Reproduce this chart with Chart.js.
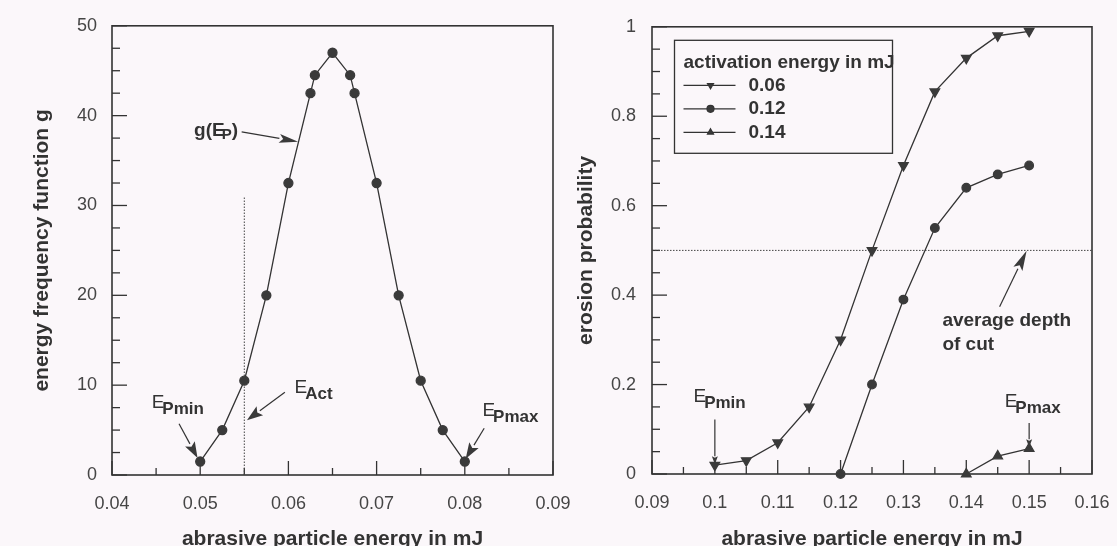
<!DOCTYPE html>
<html>
<head>
<meta charset="utf-8">
<script src="https://cdn.jsdelivr.net/npm/chart.js@4.4.1/dist/chart.umd.min.js"></script>
<style>
  html, body { margin: 0; padding: 0; background: #fbf7fa; overflow: hidden; }
  #wrap { position: relative; width: 1117px; height: 546px; overflow: hidden; }
  .box { position: absolute; top: 0; }
</style>
</head>
<body>
<div id="wrap">
  <div class="box" style="left:0"><canvas id="leftChart" width="600" height="560"></canvas></div>
  <div class="box" style="left:560px"><canvas id="rightChart" width="557" height="560"></canvas></div>
</div>
<script>
// Lijevi dijagram - funkcija učestalosti energije g(E_P)
const energyX = [0.05, 0.0525, 0.055, 0.0575, 0.06, 0.0625, 0.063, 0.065, 0.067, 0.0675, 0.07, 0.0725, 0.075, 0.0775, 0.08];
const frequencyG = [1.5, 5, 10.5, 20, 32.5, 42.5, 44.5, 47, 44.5, 42.5, 32.5, 20, 10.5, 5, 1.5];
const activationX = 0.055;
const activationTop = 31;

// Desni dijagram - vjerovatnoća erozije za tri energije aktivacije
const seriesLabels = ['0.06', '0.12', '0.14'];
const energy006 = [0.1, 0.105, 0.11, 0.115, 0.12, 0.125, 0.13, 0.135, 0.14, 0.145, 0.15];
const prob006 = [0.02, 0.03, 0.07, 0.15, 0.3, 0.5, 0.69, 0.855, 0.93, 0.98, 0.99];
const energy012 = [0.12, 0.125, 0.13, 0.135, 0.14, 0.145, 0.15];
const prob012 = [0, 0.2, 0.39, 0.55, 0.64, 0.67, 0.69];
const energy014 = [0.14, 0.145, 0.15];
const prob014 = [0, 0.04, 0.057];
const averageDepthLevel = 0.5;

const INK = '#333';
const TICK_INK = '#454545';
const BG = '#fbf7fa';
const FONT = "'Liberation Sans', Arial, Helvetica, sans-serif";

function toPoints(xs, ys) {
    return xs.map((x, i) => ({ x: x, y: ys[i] }));
}

function line(ctx, x1, y1, x2, y2) {
    ctx.beginPath();
    ctx.moveTo(x1, y1);
    ctx.lineTo(x2, y2);
    ctx.stroke();
}

// Strelica sa ispunjenom glavom, koordinate u jedinicama podataka
function arrow(chart, from, to, headLen, headWidth) {
    const { ctx, scales } = chart;
    const x1 = scales.x.getPixelForValue(from[0]), y1 = scales.y.getPixelForValue(from[1]);
    const x2 = scales.x.getPixelForValue(to[0]), y2 = scales.y.getPixelForValue(to[1]);
    const ang = Math.atan2(y2 - y1, x2 - x1);
    ctx.save();
    ctx.strokeStyle = INK;
    ctx.fillStyle = '#3a3a3a';
    ctx.lineWidth = 1.2;
    const bx = x2 - Math.cos(ang) * headLen, by = y2 - Math.sin(ang) * headLen;
    line(ctx, x1, y1, bx, by);
    ctx.beginPath();
    ctx.moveTo(x2, y2);
    ctx.lineTo(bx + Math.sin(ang) * headWidth / 2, by - Math.cos(ang) * headWidth / 2);
    ctx.lineTo(bx + Math.cos(ang) * headLen * 0.2, by + Math.sin(ang) * headLen * 0.2);
    ctx.lineTo(bx - Math.sin(ang) * headWidth / 2, by + Math.cos(ang) * headWidth / 2);
    ctx.closePath();
    ctx.fill();
    ctx.restore();
}

// Tekst sa indeksom (npr. E s indeksom Pmin)
function subText(chart, main, sub, at) {
    const { ctx, scales } = chart;
    const x = scales.x.getPixelForValue(at[0]);
    const y = scales.y.getPixelForValue(at[1]);
    ctx.save();
    ctx.fillStyle = INK;
    ctx.textBaseline = 'middle';
    ctx.textAlign = 'left';
    ctx.font = '19px ' + FONT;
    ctx.fillText(main, x, y);
    const w = ctx.measureText(main).width;
    ctx.font = 'bold 17px ' + FONT;
    ctx.fillText(sub, x + w - 2, y + 6);
    ctx.restore();
}

function plainText(chart, txt, at) {
    const { ctx, scales } = chart;
    ctx.save();
    ctx.fillStyle = INK;
    ctx.textBaseline = 'middle';
    ctx.textAlign = 'left';
    ctx.font = 'bold 19px ' + FONT;
    ctx.fillText(txt, scales.x.getPixelForValue(at[0]), scales.y.getPixelForValue(at[1]));
    ctx.restore();
}

// Okvir i kratke crtice okrenute ka unutra
const framePlugin = {
    id: 'frame',
    beforeDatasetsDraw(chart) {
        const { ctx, chartArea: a, scales } = chart;
        ctx.save();
        ctx.strokeStyle = INK;
        ctx.lineWidth = 1.6;
        ctx.strokeRect(a.left, a.top, a.right - a.left, a.bottom - a.top);
        ctx.lineWidth = 1.3;
        scales.x.ticks.forEach(t => {
            const px = scales.x.getPixelForValue(t.value);
            const len = t.label !== '' ? 14 : 7;
            line(ctx, px, a.bottom, px, a.bottom - len);
        });
        scales.y.ticks.forEach(t => {
            const py = scales.y.getPixelForValue(t.value);
            const len = t.label !== '' ? 15 : 8;
            line(ctx, a.left, py, a.left + len, py);
        });
        ctx.restore();
    }
};

const leftNotes = {
    id: 'leftNotes',
    beforeDatasetsDraw(chart) {
        const { ctx, scales } = chart;
        const px = scales.x.getPixelForValue(activationX);
        ctx.save();
        ctx.strokeStyle = '#444';
        ctx.lineWidth = 1;
        ctx.setLineDash([1.5, 1.5]);
        line(ctx, px, scales.y.getPixelForValue(0), px, scales.y.getPixelForValue(activationTop));
        ctx.restore();
    },
    afterDatasetsDraw(chart) {
        arrow(chart, [0.0547, 38.2], [0.0611, 37.1], 19, 9);
        arrow(chart, [0.0596, 9.2], [0.0553, 6.1], 16, 11);
        arrow(chart, [0.0476, 5.7], [0.0497, 1.9], 16, 11);
        arrow(chart, [0.0822, 5.2], [0.0801, 1.8], 16, 11);
        const { ctx, scales } = chart;
        ctx.save();
        ctx.fillStyle = INK;
        ctx.textBaseline = 'middle';
        ctx.font = 'bold 19px ' + FONT;
        const gx = scales.x.getPixelForValue(0.0493), gy = scales.y.getPixelForValue(38.3);
        ctx.fillText('g(E', gx, gy);
        const w = ctx.measureText('g(E').width;
        ctx.font = 'bold 15px ' + FONT;
        ctx.fillText('P', gx + w - 3, gy + 4);
        const w2 = ctx.measureText('P').width;
        ctx.font = 'bold 19px ' + FONT;
        ctx.fillText(')', gx + w - 3 + w2, gy);
        ctx.restore();
        subText(chart, 'E', 'Pmin', [0.0445, 8.0]);
        subText(chart, 'E', 'Act', [0.0607, 9.7]);
        subText(chart, 'E', 'Pmax', [0.0820, 7.1]);
    }
};

const rightNotes = {
    id: 'rightNotes',
    beforeDatasetsDraw(chart) {
        const { ctx, chartArea: a, scales } = chart;
        const py = scales.y.getPixelForValue(averageDepthLevel);
        ctx.save();
        ctx.strokeStyle = '#444';
        ctx.lineWidth = 1;
        ctx.setLineDash([1.5, 1.5]);
        line(ctx, a.left, py, a.right, py);
        ctx.restore();
    },
    afterDatasetsDraw(chart) {
        arrow(chart, [0.1453, 0.374], [0.1496, 0.499], 20, 10);
        arrow(chart, [0.1, 0.122], [0.1, 0.022], 8, 6);
        arrow(chart, [0.15, 0.114], [0.15, 0.06], 8, 6);
        subText(chart, 'E', 'Pmin', [0.0966, 0.172]);
        subText(chart, 'E', 'Pmax', [0.1461, 0.161]);
        plainText(chart, 'average depth', [0.1362, 0.343]);
        plainText(chart, 'of cut', [0.1362, 0.288]);
        drawLegend(chart);
    }
};

function drawLegend(chart) {
    const { ctx, chartArea: a } = chart;
    const x0 = a.left + 22.5, y0 = a.top + 13.5, w = 218, h = 113;
    ctx.save();
    ctx.fillStyle = BG;
    ctx.fillRect(x0, y0, w, h);
    ctx.strokeStyle = INK;
    ctx.lineWidth = 1.3;
    ctx.strokeRect(x0, y0, w, h);
    ctx.fillStyle = INK;
    ctx.textBaseline = 'middle';
    ctx.font = 'bold 19px ' + FONT;
    ctx.fillText('activation energy in mJ', x0 + 9, y0 + 22);
    chart.data.datasets.forEach((ds, i) => {
        const y = y0 + 45 + i * 23.5;
        ctx.strokeStyle = INK;
        ctx.lineWidth = 1.2;
        line(ctx, x0 + 9, y, x0 + 61, y);
        ctx.fillStyle = '#3a3a3a';
        if (Chart.helpers && Chart.helpers.drawPoint) {
            Chart.helpers.drawPoint(ctx, {
                pointStyle: ds.pointStyle, rotation: ds.pointRotation || 0,
                radius: 3.5, borderWidth: 1
            }, x0 + 36, y);
        }
        ctx.fillStyle = INK;
        ctx.font = 'bold 19px ' + FONT;
        ctx.fillText(ds.label, x0 + 74, y);
    });
    ctx.restore();
}

function axisTitle(text, pad) {
    return { display: true, text: text, color: INK, font: { family: FONT, size: 21, weight: 'bold' }, padding: pad };
}

function tickFont() {
    return { family: FONT, size: 18 };
}

// Bez dodatnog razmaka koji Chart.js ostavlja za krajnje oznake
function noSidePadding(s) {
    s.paddingLeft = 0;
    s.paddingRight = 0;
}

const lineStyle = { borderColor: INK, borderWidth: 1.3, pointBorderColor: '#3a3a3a', pointBackgroundColor: '#3a3a3a', clip: false, tension: 0 };

new Chart(document.getElementById('leftChart'), {
    type: 'line',
    data: {
        datasets: [Object.assign({
            label: 'g(E_P)',
            data: toPoints(energyX, frequencyG),
            pointRadius: 4.5,
            pointStyle: 'circle'
        }, lineStyle)]
    },
    options: {
        responsive: false,
        animation: false,
        layout: { padding: { top: 24, right: 47, left: 0, bottom: 0 } },
        plugins: { legend: { display: false }, tooltip: { enabled: false } },
        scales: {
            x: {
                type: 'linear', min: 0.04, max: 0.09,
                grid: { display: false, drawTicks: false },
                border: { display: false },
                ticks: {
                    stepSize: 0.005, autoSkip: false, maxRotation: 0, padding: 18,
                    color: TICK_INK, font: tickFont(),
                    callback: v => Math.round(v * 1000) % 10 === 0 ? (Math.round(v * 100) / 100).toFixed(2) : ''
                },
                title: axisTitle('abrasive particle energy in mJ', { top: 0, bottom: 8 }),
                afterFit: s => { s.height = 85; noSidePadding(s); }
            },
            y: {
                min: 0, max: 50,
                grid: { display: false, drawTicks: false },
                border: { display: false },
                ticks: {
                    stepSize: 2.5, autoSkip: false, padding: 15,
                    color: TICK_INK, font: tickFont(),
                    callback: v => Math.round(v * 10) % 100 === 0 ? String(Math.round(v)) : ''
                },
                title: axisTitle('energy frequency function g', { top: 30, bottom: 0 }),
                afterFit: s => { s.width = 112; }
            }
        }
    },
    plugins: [framePlugin, leftNotes]
});

new Chart(document.getElementById('rightChart'), {
    type: 'line',
    data: {
        datasets: [
            Object.assign({ label: seriesLabels[0], data: toPoints(energy006, prob006), pointStyle: 'triangle', pointRotation: 180, pointRadius: 5.5 }, lineStyle),
            Object.assign({ label: seriesLabels[1], data: toPoints(energy012, prob012), pointStyle: 'circle', pointRadius: 4.3 }, lineStyle),
            Object.assign({ label: seriesLabels[2], data: toPoints(energy014, prob014), pointStyle: 'triangle', pointRadius: 5.5 }, lineStyle)
        ]
    },
    options: {
        responsive: false,
        animation: false,
        layout: { padding: { top: 24, right: 25, left: 0, bottom: 0 } },
        plugins: { legend: { display: false }, tooltip: { enabled: false } },
        scales: {
            x: {
                type: 'linear', min: 0.09, max: 0.16,
                grid: { display: false, drawTicks: false },
                border: { display: false },
                ticks: {
                    stepSize: 0.005, autoSkip: false, maxRotation: 0, padding: 18,
                    color: TICK_INK, font: tickFont(),
                    callback: v => Math.round(v * 1000) % 10 === 0 ? String(Math.round(v * 100) / 100) : ''
                },
                title: axisTitle('abrasive particle energy in mJ', { top: 0, bottom: 8 }),
                afterFit: s => { s.height = 86; noSidePadding(s); }
            },
            y: {
                min: 0, max: 1,
                grid: { display: false, drawTicks: false },
                border: { display: false },
                ticks: {
                    stepSize: 0.05, autoSkip: false, padding: 16,
                    color: TICK_INK, font: tickFont(),
                    callback: v => Math.round(v * 100) % 20 === 0 ? String(Math.round(v * 10) / 10) : ''
                },
                title: axisTitle('erosion probability', { top: 14, bottom: 0 }),
                afterFit: s => { s.width = 92; }
            }
        }
    },
    plugins: [framePlugin, rightNotes]
});
</script>
</body>
</html>
